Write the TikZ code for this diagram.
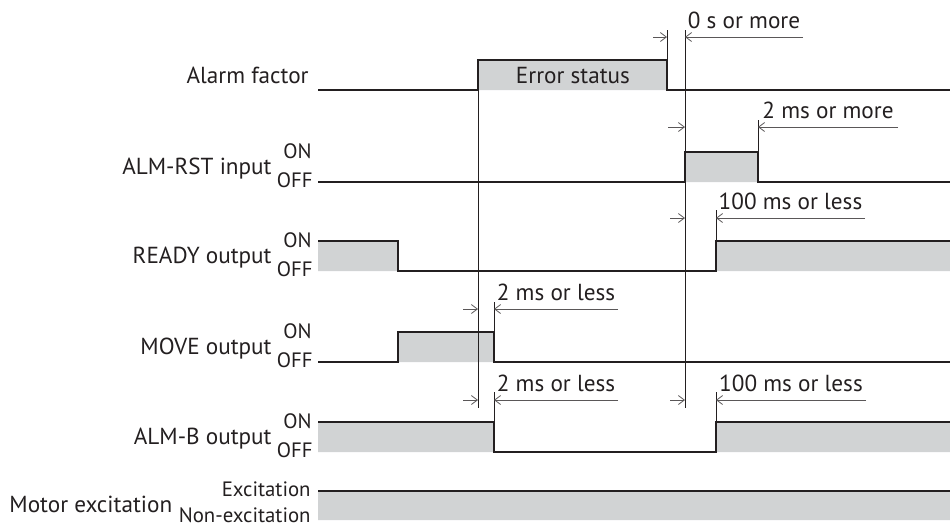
\documentclass[tikz,border=0pt]{standalone}
\usepackage{fontspec}
\setmainfont{PT Sans}
\usetikzlibrary{arrows.meta}
\definecolor{sigfill}{HTML}{D1D3D4}
\definecolor{ink}{HTML}{231F20}
\begin{document}
\begin{tikzpicture}[x=0.5pt, y=-0.5pt,
    every node/.style={text=ink, inner sep=0pt, font=\fontsize{11.6}{14}\selectfont},
    wave/.style={draw=ink, line width=0.8pt},
    lvl/.style={fill=sigfill},
    guide/.style={draw=ink, line width=0.4pt},
    dim/.style={draw=ink!75, line width=0.4pt, -{Straight Barb[length=3pt,width=4.5pt]}},
    sig/.style={anchor=base east},
    onoff/.style={anchor=base east, font=\fontsize{10.4}{12}\selectfont}]
  \useasboundingbox (0,0) rectangle (950,526);
  % levels
  \fill[lvl] (478,60) rectangle (667,90)
             (685,152) rectangle (758,182)
             (318,241) rectangle (398,271)  (716,241) rectangle (950,271)
             (398,332) rectangle (494,362)
             (318,422) rectangle (494,452)  (716,422) rectangle (950,452)
             (318,491) rectangle (950,520);
  \draw[wave] (318,90) -| (478,60) -| (667,90) -- (950,90)
              (318,182) -| (685,152) -| (758,182) -- (950,182)
              (318,241) -| (398,271) -| (716,241) -- (950,241)
              (318,362) -| (398,332) -| (494,362) -- (950,362)
              (318,422) -| (494,452) -| (716,422) -- (950,422)
              (318,491) -- (950,491);
  % labels
  \node[sig] (alarm) at (309,83) {Alarm factor};
  \node[anchor=base] (err) at (573,83) {Error status};
  \node[sig] (rst) at (272,174) {ALM-RST input};
  \node[onoff] (rston) at (312,158) {ON};
  \node[onoff] (rstoff) at (313,187) {OFF};
  \node[sig] (ready) at (272,263) {READY output};
  \node[onoff] (readyon) at (312,247) {ON};
  \node[onoff] (readyoff) at (313,276) {OFF};
  \node[sig] (move) at (272,354) {MOVE output};
  \node[onoff] (moveon) at (312,338) {ON};
  \node[onoff] (moveoff) at (313,367) {OFF};
  \node[sig] (almb) at (272,444) {ALM-B output};
  \node[onoff] (almbon) at (312,428) {ON};
  \node[onoff] (almboff) at (313,457) {OFF};
  \node[anchor=base west] (motor) at (9,512) {Motor excitation};
  \node[onoff] (exc) at (311,496) {Excitation};
  \node[onoff] (nexc) at (311,522) {Non-excitation};
  % guides
  \draw[guide] (478,60) -- (478,408)
               (667,30) -- (667,60)
               (685,30) -- (685,408)
               (758,120) -- (758,152)
               (716,210) -- (716,241)  (716,392) -- (716,422)
               (494,302) -- (494,332)  (494,392) -- (494,422);
  % timing dimensions
  \draw[dim] (653,37) -- (667,37);
  \draw[dim] (803,37) -- node[above=4pt] (t0) {0 s or more} (685,37);
  \draw[dim] (668,127) -- (685,127);
  \draw[dim] (898,127) -- node[above=4pt] (t1) {2 ms or more} (758,127);
  \draw[dim] (670,218) -- (685,218);
  \draw[dim] (865,218) -- node[above=4pt] (t2) {100 ms or less} (716,218);
  \draw[dim] (463,309) -- (478,309);
  \draw[dim] (618,309) -- node[above=4pt] (t3) {2 ms or less} (494,309);
  \draw[dim] (463,400) -- (478,400);
  \draw[dim] (618,400) -- node[above=4pt] (t4) {2 ms or less} (494,400);
  \draw[dim] (670,400) -- (685,400);
  \draw[dim] (866,400) -- node[above=4pt] (t5) {100 ms or less} (716,400);
\end{tikzpicture}
\end{document}
